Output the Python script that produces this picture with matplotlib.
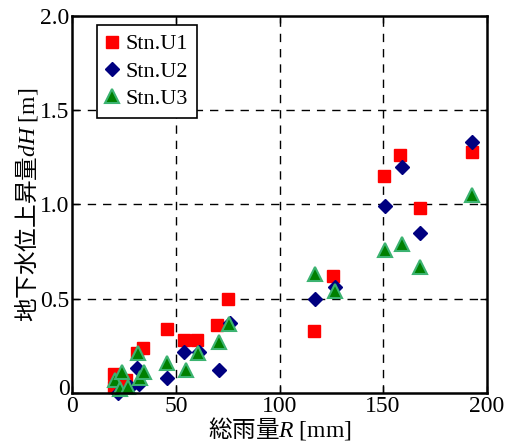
import matplotlib
matplotlib.use("Agg")
import matplotlib.pyplot as plt
import matplotlib.transforms as mtransforms

# --- Данные ---
u1_rain = [20, 20, 26, 31, 34, 45.5, 54, 60, 70, 75, 116.5, 126, 150.5, 158, 168, 193]
u1_dh = [0.03, 0.10, 0.07, 0.21, 0.24, 0.34, 0.28, 0.28, 0.36, 0.50, 0.33, 0.62, 1.15, 1.26, 0.98, 1.28]

u2_rain = [22, 28, 31, 32, 45.5, 54, 61, 71, 76, 117, 127, 151, 159, 168, 193]
u2_dh = [0.0, 0.03, 0.13, 0.05, 0.08, 0.22, 0.22, 0.12, 0.37, 0.50, 0.56, 0.99, 1.20, 0.85, 1.33]

u3_rain = [20.5, 23, 24, 27, 31.5, 32.5, 34.5, 45.5, 55, 60.5, 71, 75.5, 117, 127, 151, 159, 168, 193]
u3_dh = [0.07, 0.02, 0.11, 0.03, 0.21, 0.08, 0.11, 0.16, 0.12, 0.21, 0.27, 0.365, 0.63, 0.54, 0.76, 0.79, 0.67, 1.05]

x_ticks = [0, 50, 100, 150, 200]
y_ticks = [0, 0.5, 1.0, 1.5, 2.0]
y_tick_labels = ["0", "0.5", "1.0", "1.5", "2.0"]

# --- Шрифты ---
plt.rcParams['font.family'] = ['Liberation Serif', 'Noto Sans CJK JP']
plt.rcParams['mathtext.fontset'] = 'custom'
plt.rcParams['mathtext.rm'] = 'Liberation Serif'
plt.rcParams['mathtext.it'] = 'Liberation Serif:italic'

figure = plt.figure(figsize=(5.08, 4.43), dpi=100)
axes = figure.add_axes([0.1427, 0.1129, 0.815, 0.851])

axes.plot(u1_rain, u1_dh, linestyle='none', marker='s', markersize=8.8,
          color='#ff0000', markeredgecolor='#ff0000', label='Stn.U1', clip_on=False)
axes.plot(u2_rain, u2_dh, linestyle='none', marker='D', markersize=7.0,
          color='#000080', markeredgecolor='#000080', label='Stn.U2', clip_on=False)
axes.plot(u3_rain, u3_dh, linestyle='none', marker='^', markersize=9.5,
          markerfacecolor='#008000', markeredgecolor='#3cb371', markeredgewidth=1.5,
          label='Stn.U3', clip_on=False)

axes.set_xlim(0, 200)
axes.set_ylim(0, 2.0)
axes.set_xticks(x_ticks)
axes.set_yticks(y_ticks, y_tick_labels)
axes.tick_params(direction='in', top=True, right=True, labelsize=17, length=5, width=1, pad=2)
for spine in axes.spines.values():
    spine.set_linewidth(1.8)

# подпись "0" по оси Y чуть выше, чтобы не наезжала на "0" оси X
zero_label = axes.get_yticklabels()[0]
zero_label.set_transform(zero_label.get_transform() +
                         mtransforms.ScaledTranslation(0, 4 / 72, figure.dpi_scale_trans))

for value in [50, 100, 150]:
    axes.axvline(value, color='black', linestyle=(0, (6, 5)), linewidth=1, zorder=0.5)
for value in [0.5, 1.0, 1.5]:
    axes.axhline(value, color='black', linestyle=(0, (6, 5)), linewidth=1, zorder=0.5)

axes.set_xlabel('総雨量$R\\ \\mathrm{[mm]}$', fontsize=17, family='Noto Sans CJK JP', labelpad=-1)
axes.set_ylabel('地下水位上昇量$dH\\ \\mathrm{[m]}$', fontsize=17, family='Noto Sans CJK JP', labelpad=0)

legend = axes.legend(loc='upper left', bbox_to_anchor=(0.059, 0.976), borderaxespad=0,
                     numpoints=1, fontsize=16, fancybox=False, edgecolor='black', framealpha=1,
                     handlelength=0.6, handletextpad=0.3, borderpad=0.4, labelspacing=0.3)
legend.get_frame().set_linewidth(1.2)

figure.savefig('out.png', dpi=100)
